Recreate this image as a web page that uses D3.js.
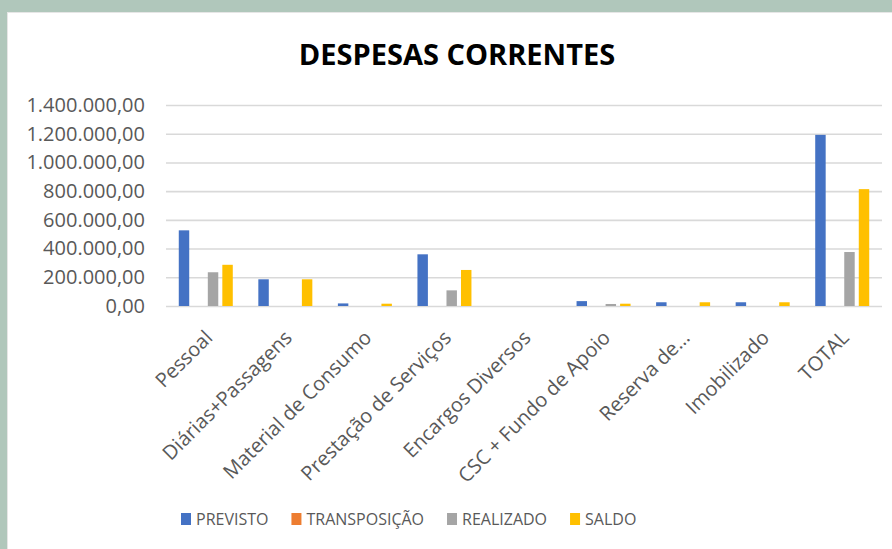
<!DOCTYPE html>
<html>
<head>
<meta charset="utf-8">
<script src="https://cdn.jsdelivr.net/npm/d3@7"></script>
<style>
  html, body { margin: 0; padding: 0; background: #b0c7bb; }
  svg { display: block; font-family: "Open Sans", sans-serif; }
</style>
</head>
<body>
<div id="chart"></div>
<script>
var categories = ["Pessoal", "Diárias+Passagens", "Material de Consumo", "Prestação de Serviços",
                  "Encargos Diversos", "CSC + Fundo de Apoio", "Reserva de…", "Imobilizado", "TOTAL"];
var seriesNames = ["PREVISTO", "TRANSPOSIÇÃO", "REALIZADO", "SALDO"];
var seriesColors = ["#4472c4", "#ed7d31", "#a5a5a5", "#ffc000"];

var previsto     = [527000, 186000, 18000, 360000, 0, 34000, 26000, 26000, 1192000];
var transposicao = [0, 0, 0, 0, 0, 0, 0, 0, 0];
var realizado    = [235000, 0, 0, 109000, 0, 14000, 0, 0, 376000];
var saldo        = [287000, 186000, 16000, 251000, 0, 16000, 26000, 26000, 814000];

var yTicks = [0, 200000, 400000, 600000, 800000, 1000000, 1200000, 1400000];

var width = 892,
    height = 549;

var seriesValues = [previsto, transposicao, realizado, saldo];

var rows = categories.map(function(c, i) {
    return {
        name: c,
        values: seriesNames.map(function(s, j) {
            return {series: s, idx: j, value: seriesValues[j][i]};
        })
    };
});

var svg = d3.select("#chart").append("svg")
    .attr("width", width)
    .attr("height", height);

// white chart area, the green strip stays at top/left
svg.append("rect")
    .attr("x", 7).attr("y", 12)
    .attr("width", width - 7).attr("height", height - 12)
    .attr("fill", "#e6e6e6");
svg.append("rect")
    .attr("x", 8).attr("y", 13)
    .attr("width", width - 8).attr("height", height - 13)
    .attr("fill", "#ffffff");

var x0 = d3.scaleBand()
    .domain(categories)
    .range([166, 882])
    .paddingInner(0)
    .paddingOuter(0);

var x1 = d3.scaleBand()
    .domain(seriesNames)
    .range([0, x0.bandwidth()])
    .paddingInner(0.28)
    .paddingOuter(0.88);

var y = d3.scaleLinear()
    .domain([0, 1400000])
    .range([306, 105]);

var locale = d3.formatLocale({decimal: ",", thousands: ".", grouping: [3], currency: ["R$", ""]});
var fmt = locale.format(",.2f");

// title
svg.append("text")
    .attr("x", 457)
    .attr("y", 65)
    .attr("text-anchor", "middle")
    .style("font-size", "29px")
    .style("font-weight", "bold")
    .attr("fill", "#000")
    .text("DESPESAS CORRENTES");

// gridlines + y labels
var yAxis = d3.axisLeft(y)
    .tickValues(yTicks)
    .tickSize(-(882 - 166))
    .tickPadding(21)
    .tickFormat(fmt);

var gy = svg.append("g")
    .attr("transform", "translate(166,0)")
    .call(yAxis);

gy.select(".domain").remove();
gy.selectAll(".tick line")
    .attr("stroke", "#d9d9d9")
    .attr("stroke-width", 1.6);
gy.selectAll(".tick text")
    .attr("fill", "#595959")
    .style("font-size", "20px")
    .style("font-family", "Open Sans, sans-serif");

// bars
var groups = svg.selectAll(".catGroup")
    .data(rows)
    .enter()
    .append("g")
    .attr("class", "catGroup")
    .attr("transform", function(d) { return "translate(" + x0(d.name) + ",0)"; });

groups.selectAll("rect")
    .data(function(d) { return d.values; })
    .enter()
    .append("rect")
    .attr("x", function(d) { return x1(d.series); })
    .attr("width", x1.bandwidth())
    .attr("y", function(d) { return y(d.value); })
    .attr("height", function(d) { return y(0) - y(d.value); })
    .attr("fill", function(d) { return seriesColors[d.idx]; });

// x labels
var xAxis = d3.axisBottom(x0).tickSize(0).tickPadding(0);
var gx = svg.append("g")
    .attr("transform", "translate(0," + y(0) + ")")
    .call(xAxis);

gx.select(".domain").remove();
gx.selectAll(".tick text")
    .attr("fill", "#595959")
    .style("font-size", "20px")
    .style("font-family", "Open Sans, sans-serif")
    .attr("text-anchor", "end")
    .attr("dy", "0.35em")
    .attr("transform", "translate(3,28) rotate(-45)");

// legend
var legend = svg.append("g")
    .attr("transform", "translate(181,519)");

var lx = 0;
seriesNames.forEach(function(s, i) {
    var item = legend.append("g").attr("transform", "translate(" + lx + ",0)");
    item.append("rect")
        .attr("x", 0).attr("y", -6)
        .attr("width", 10).attr("height", 12)
        .attr("fill", seriesColors[i]);
    var t = item.append("text")
        .attr("x", 15)
        .attr("dy", "0.36em")
        .attr("fill", "#595959")
        .style("font-size", "16px")
        .text(s);
    lx += 15 + t.node().getComputedTextLength() + 23;
});
</script>
</body>
</html>
